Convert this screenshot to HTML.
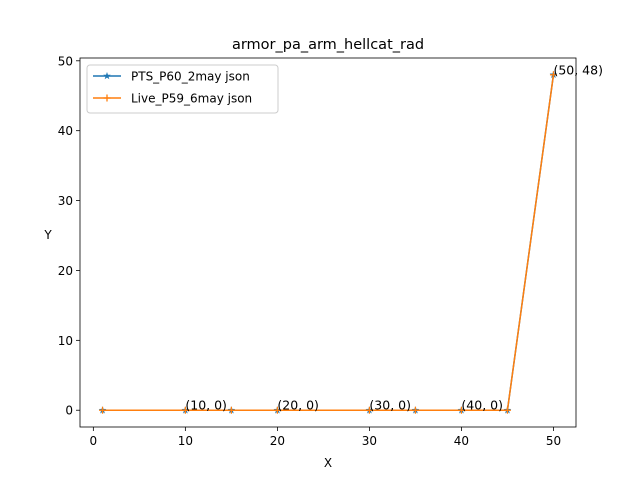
<!DOCTYPE html>
<html><head><meta charset="utf-8"><style>
body{margin:0;background:#fff;}
svg text{font-family:"DejaVu Sans","Liberation Sans",sans-serif;}
</style></head><body>
<svg id="c" width="640" height="480" xmlns="http://www.w3.org/2000/svg">
<rect width="640" height="480" fill="#fff"/>
</svg>
<script>
const xs=[1,10,15,20,30,35,40,45,50];
const ptsY=[0,0,0,0,0,0,0,0,48];
const liveY=[0,0,0,0,0,0,0,0,48];
const xTicks=[0,10,20,30,40,50];
const yTicks=[0,10,20,30,40,50];
const annX=[10,20,30,40,50];
const annY=[0,0,0,0,48];
const L=80,R=576,T=58,B=427;
const x0=-1.45,x1=52.45,y0=-2.4,y1=50.4;
const sx=v=>L+(v-x0)/(x1-x0)*(R-L);
const sy=v=>B-(v-y0)/(y1-y0)*(B-T);
const svg=document.getElementById('c');
const NS='http://www.w3.org/2000/svg';
function mk(t,a,p){const e=document.createElementNS(NS,t);for(const k in a)e.setAttribute(k,a[k]);(p||svg).appendChild(e);return e;}
let e;
e=mk('text',{x:328,y:49,'text-anchor':'middle','font-size':14.5,fill:'#000'});e.textContent='armor_pa_arm_hellcat_rad';


xTicks.forEach(v=>{
 e=mk('line',{x1:sx(v),x2:sx(v),y1:B,y2:B+4,stroke:'#000','stroke-width':0.8});
 
 
 e=mk('text',{x:sx(v),y:B+18,'text-anchor':'middle','font-size':12,fill:'#000'});e.textContent=v;
 
 
});
yTicks.forEach(v=>{
 e=mk('line',{x1:L-4,x2:L,y1:sy(v),y2:sy(v),stroke:'#000','stroke-width':0.8});
 
 
 e=mk('text',{x:L-7,y:sy(v)+4.5,'text-anchor':'end','font-size':12,fill:'#000'});e.textContent=v;
 
 
});
e=mk('text',{x:328,y:467,'text-anchor':'middle','font-size':12,fill:'#000'});e.textContent='X';


e=mk('text',{x:48,y:239,'text-anchor':'middle','font-size':12,fill:'#000'});e.textContent='Y';


function star(cx,cy,r,p,fill){let d='';for(let i=0;i<10;i++){const rr=i%2?r*0.4:r;const a=-Math.PI/2+i*Math.PI/5;d+=(i?'L':'M')+(cx+rr*Math.cos(a))+','+(cy+rr*Math.sin(a));}return mk('path',{d:d+'Z',fill:fill},p);}
function series(ys,color,marker,name){
 const g=mk('g',{});
 
 
 mk('polyline',{points:xs.map((x,i)=>sx(x)+','+sy(ys[i])).join(' '),fill:'none',stroke:color,'stroke-width':1.5},g);
 xs.forEach((x,i)=>{
  let m;
  if(marker==='star') m=star(sx(x),sy(ys[i]),4,g,color);
  else m=mk('path',{d:`M${sx(x)-3.5},${sy(ys[i])}h7M${sx(x)},${sy(ys[i])-3.5}v7`,stroke:color,'stroke-width':1.3},g);
  
  
 });
}
series(ptsY,'#1f77b4','star','series-pts-p60');
series(liveY,'#ff7f0e','plus','series-live-p59');
annX.forEach((x,i)=>{
 e=mk('text',{x:sx(x),y:sy(annY[i])-0.5,'font-size':12.5,fill:'#000'});e.textContent='('+x+', '+annY[i]+')';
 
 
});
e=mk('rect',{x:L,y:T,width:R-L,height:B-T,fill:'none',stroke:'#000','stroke-width':0.8});


const lg=mk('g',{});


mk('rect',{x:87,y:65,width:191,height:48,rx:3,fill:'#fff','fill-opacity':0.8,stroke:'#ccc'},lg);
mk('line',{x1:93,x2:121,y1:76,y2:76,stroke:'#1f77b4','stroke-width':1.5},lg);
star(107,76,4,lg,'#1f77b4');
e=mk('text',{x:131,y:80.5,'font-size':12,fill:'#000'},lg);e.textContent='PTS_P60_2may json';


mk('line',{x1:93,x2:121,y1:98,y2:98,stroke:'#ff7f0e','stroke-width':1.5},lg);
mk('path',{d:'M103.5,98h7M107,94.5v7',stroke:'#ff7f0e','stroke-width':1.3},lg);
e=mk('text',{x:131,y:102.5,'font-size':12,fill:'#000'},lg);e.textContent='Live_P59_6may json';


</script>
</body></html>
